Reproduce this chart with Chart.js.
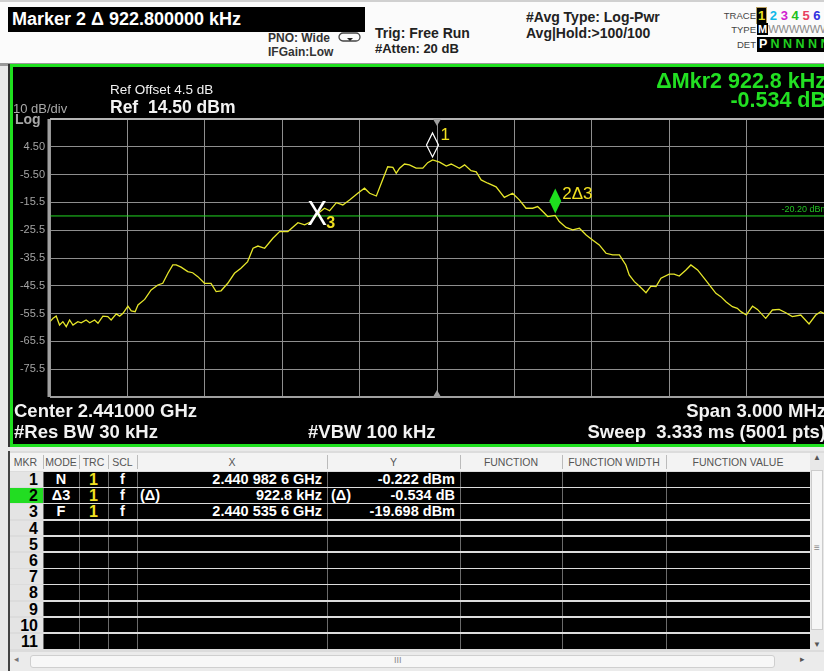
<!DOCTYPE html>
<html>
<head>
<meta charset="utf-8">
<script src="https://cdn.jsdelivr.net/npm/chart.js@4.4.1/dist/chart.umd.min.js"></script>
<style>
  body { margin: 0; width: 824px; height: 671px; overflow: hidden; position: relative;
         background: #e9e9e9; font-family: "Liberation Sans", Arial, sans-serif; }
  .abs { position: absolute; white-space: nowrap; }
  #hdr { left: 0; top: 0; width: 824px; height: 61px; background: #fbfbfb; border-bottom: 3px solid #9a9a9a;
         border-top: 2px solid #d0d0d0; box-sizing: content-box; }
  #title { left: 8px; top: 7px; width: 357px; height: 25px; background: #000; color: #fff;
           font-weight: bold; font-size: 18px; line-height: 25px; padding-left: 4px; box-sizing: border-box; }
  .hd { color: #222; font-weight: bold; }
  .hs { color: #333; font-size: 12px; font-weight: bold; }
  .tiny { color: #444; font-size: 9.5px; }
  #frame { left: 8px; top: 64px; width: 830px; height: 383px; background: #000;
           border-left: 2px solid #333; box-sizing: border-box; }
  #frame2 { left: 10px; top: 64px; width: 830px; height: 383px; border: 3px solid #1fe01f; box-sizing: border-box; }
  .w { color: #f2f2f2; font-weight: bold; }
  .g { color: #22e022; font-weight: bold; }
  #wrap { left: 0; top: 0; width: 824px; height: 671px; z-index: 2; pointer-events: none; }
  .txt { z-index: 3; }
  .th { color: #555; font-size: 10.5px; text-align: center; line-height: 18px; top: 453px; height: 18px; }
  .cell { font-weight: bold; font-size: 14.5px; line-height: 15px; color: #fff; }
</style>
</head>
<body>
<div id="hdr" class="abs"></div>
<div id="title" class="abs">Marker 2 Δ 922.800000 kHz</div>
<div class="abs hs" style="left:268px;top:31px;">PNO: Wide</div>
<div class="abs hs" style="left:268px;top:45px;">IFGain:Low</div>
<svg class="abs" style="left:338px;top:32px;" width="24" height="11" viewBox="0 0 24 11">
  <rect x="1" y="1" width="21" height="8" rx="4" fill="none" stroke="#444" stroke-width="1.3"/>
  <path d="M9 6 L15 6 L12 9 Z" fill="#222"/>
</svg>
<div class="abs hd" style="left:375px;top:25px;font-size:14px;">Trig: Free Run</div>
<div class="abs hd" style="left:375px;top:41px;font-size:13px;">#Atten: 20 dB</div>
<div class="abs hd" style="left:526px;top:9px;font-size:14px;">#Avg Type: Log-Pwr</div>
<div class="abs hd" style="left:526px;top:25px;font-size:14px;">Avg|Hold:&gt;100/100</div>
<div class="abs tiny" style="left:716px;top:10px;width:40px;text-align:right;">TRACE</div>
<div class="abs tiny" style="left:716px;top:24px;width:40px;text-align:right;">TYPE</div>
<div class="abs tiny" style="left:716px;top:39px;width:40px;text-align:right;">DET</div>
<div class="abs" style="left:757px;top:8px;width:70px;height:15px;font-weight:bold;font-size:13px;line-height:15px;">
  <span style="background:#000;color:#e8e020;outline:1px solid #b8a060;padding:0 1px;">1</span>
  <span style="color:#10b8e8;">2</span>
  <span style="color:#d020d0;">3</span>
  <span style="color:#20c020;">4</span>
  <span style="color:#e84060;">5</span>
  <span style="color:#3030e0;">6</span>
</div>
<div class="abs" style="left:757px;top:23px;width:70px;height:13px;font-size:11px;line-height:13px;">
  <span style="background:#000;color:#fff;font-weight:bold;padding:0 1px;">M</span><span style="color:#888;">WWWWWWWW</span>
</div>
<div class="abs" style="left:757px;top:37px;width:70px;height:15px;background:#000;font-size:12.5px;line-height:15px;font-weight:bold;">
  <span style="color:#fff;padding-left:2px;">P</span> <span style="color:#20d020;">N N N N N</span>
</div>

<div id="frame" class="abs"></div>
<div id="frame2" class="abs"></div>

<div class="abs w txt" style="left:110px;top:82px;font-size:13.5px;font-weight:normal;">Ref Offset 4.5 dB</div>
<div class="abs w txt" style="left:110px;top:97px;font-size:17.5px;">Ref&nbsp; 14.50 dBm</div>
<div class="abs txt" style="left:13px;top:101px;font-size:13px;color:#a8a8a8;">10 dB/div</div>
<div class="abs txt" style="left:15px;top:111px;font-size:14px;color:#a8a8a8;font-weight:bold;">Log</div>
<div class="abs g txt" style="right:-2px;top:69px;font-size:21.5px;">ΔMkr2 922.8 kHz</div>
<div class="abs g txt" style="right:-2px;top:88px;font-size:21.5px;">-0.534 dB</div>
<div class="abs w txt" style="left:14px;top:400px;font-size:18.5px;">Center 2.441000 GHz</div>
<div class="abs w txt" style="left:14px;top:421px;font-size:18.5px;">#Res BW 30 kHz</div>
<div class="abs w txt" style="left:308px;top:421px;font-size:18.5px;">#VBW 100 kHz</div>
<div class="abs w txt" style="right:-2px;top:400px;font-size:18.5px;">Span 3.000 MHz</div>
<div class="abs w txt" style="right:-2px;top:421px;font-size:18.5px;">Sweep&nbsp; 3.333 ms (5001 pts)</div>

<div id="table"></div>

<div id="wrap" class="abs"><canvas id="spec"></canvas></div>

<script>
// trace 1 (averaged, log-pwr), offset from centre 2.441 GHz
const freqOffsetKHz = [-1500, -1488, -1476, -1463, -1450, -1437, -1424, -1411, -1392, -1379,
  -1360, -1346, -1327, -1314, -1295, -1276, -1263, -1243, -1230, -1217,
  -1198, -1185, -1170, -1159, -1133, -1108, -1082, -1063, -1043, -1024,
  -1011, -992, -966, -947, -927, -901, -876, -856, -837, -811,
  -785, -760, -734, -713, -694, -668, -636, -610, -578, -539,
  -513, -487, -464, -436, -416, -390, -365, -339, -307, -281,
  -261, -235, -216, -191, -171, -158, -145, -126, -107, -81,
  -55, -36, -17, 10, 36, 55, 87, 107, 132, 152,
  171, 197, 229, 261, 293, 319, 345, 371, 390, 410,
  429, 458, 474, 500, 526, 552, 578, 603, 629, 655,
  681, 707, 732, 745, 765, 784, 810, 829, 849, 868,
  900, 919, 939, 965, 984, 1010, 1036, 1061, 1081, 1100,
  1120, 1145, 1164, 1178, 1199, 1223, 1242, 1274, 1300, 1326,
  1352, 1377, 1410, 1442, 1468, 1487, 1500];
const levelDbm = [-58.4, -57.2, -56.4, -59.6, -58.4, -60.2, -57.8, -59.6, -58.4, -58.8,
  -57.8, -58.8, -57.8, -59.0, -56.4, -56.6, -57.8, -55.6, -56.4, -55.4,
  -52.8, -54.5, -54.8, -52.4, -50.4, -47.0, -45.2, -44.6, -41.0, -38.0,
  -38.0, -38.8, -40.4, -40.8, -42.2, -44.6, -44.6, -47.6, -47.3, -44.6,
  -41.0, -39.2, -36.8, -32.0, -31.2, -32.0, -28.4, -26.0, -26.0, -22.8,
  -23.6, -22.4, -19.7, -17.6, -18.5, -15.6, -16.4, -14.6, -12.2, -10.4,
  -12.2, -13.2, -8.6, -2.7, -2.9, -5.0, -3.2, -1.7, -2.0, -3.2,
  -3.2, -1.2, -0.2, -1.0, -2.4, -1.7, -3.2, -2.0, -4.1, -4.5,
  -7.4, -8.6, -9.9, -13.7, -12.2, -14.6, -17.6, -17.6, -17.0, -18.8,
  -20.6, -20.2, -22.4, -24.5, -25.4, -24.8, -27.2, -29.0, -30.8, -33.8,
  -34.4, -34.4, -38.0, -41.6, -44.0, -45.6, -48.0, -45.6, -45.8, -42.8,
  -41.3, -41.3, -42.0, -39.8, -38.0, -39.8, -42.8, -45.8, -48.2, -49.4,
  -51.2, -53.0, -53.6, -54.8, -56.0, -52.8, -54.0, -57.2, -54.2, -54.0,
  -55.2, -56.6, -56.0, -59.2, -56.0, -54.8, -55.5];

const yTickValues = [14.5, 4.5, -5.5, -15.5, -25.5, -35.5, -45.5, -55.5, -65.5, -75.5, -85.5];
const yTickLabels = ['', '4.50', '-5.50', '-15.5', '-25.5', '-35.5', '-45.5', '-55.5', '-65.5', '-75.5', ''];
const xGridKHz = [-1500, -1200, -900, -600, -300, 0, 300, 600, 900, 1200, 1500];

const markerLabels = ['1', '2Δ3', '3'];
const markerFreqKHz = [-17.4, 458.4, -464.4];
const markerLevelDbm = [-0.222, -20.232, -19.698];
const displayLineDbm = -20.20;

// marker table
const tableCols = ['MKR', 'MODE', 'TRC', 'SCL', 'X', 'Y', 'FUNCTION', 'FUNCTION WIDTH', 'FUNCTION VALUE'];
const tableMkr = ['1', '2', '3', '4', '5', '6', '7', '8', '9', '10', '11'];
const tableMode = ['N', 'Δ3', 'F'];
const tableTrc = ['1', '1', '1'];
const tableScl = ['f', 'f', 'f'];
const tableXPrefix = ['', '(Δ)', ''];
const tableX = ['2.440 982 6 GHz', '922.8 kHz', '2.440 535 6 GHz'];
const tableYPrefix = ['', '(Δ)', ''];
const tableY = ['-0.222 dBm', '-0.534 dB', '-19.698 dBm'];

function buildTable() {
    const el = document.getElementById('table');
    const colX = [8, 43, 79, 108, 137, 327, 460, 562, 666, 810];
    let h = '';
    h += '<div class="abs" style="left:8px;top:451px;width:816px;height:220px;background:#dcdcdc;border-left:2px solid #444;box-sizing:border-box;"></div>';
    h += '<div class="abs" style="left:10px;top:453px;width:800px;height:18px;background:#f3f3f3;"></div>';
    for (let c = 0; c < tableCols.length; c++) {
        h += `<div class="abs th" style="left:${colX[c]}px;width:${colX[c + 1] - colX[c]}px;">${tableCols[c]}</div>`;
        if (c > 0) h += `<div class="abs" style="left:${colX[c]}px;top:455px;width:1px;height:14px;background:#bbb;"></div>`;
    }
    const rowH = 16.2;
    for (let r = 0; r < tableMkr.length; r++) {
        const top = 472 + r * rowH;
        h += `<div class="abs" style="left:10px;top:${top}px;width:33px;height:${rowH - 1.5}px;background:${r === 1 ? '#22dd22' : '#e4e4e4'};"></div>`;
        h += `<div class="abs" style="left:43px;top:${top}px;width:767px;height:${rowH - 1.5}px;background:#000;"></div>`;
        h += `<div class="abs cell" style="left:10px;top:${top}px;width:28px;text-align:right;color:#000;font-size:16px;">${tableMkr[r]}</div>`;
        if (r < tableMode.length) {
            h += `<div class="abs cell" style="left:43px;top:${top}px;width:36px;text-align:center;">${tableMode[r]}</div>`;
            h += `<div class="abs cell" style="left:79px;top:${top}px;width:29px;text-align:center;color:#f0e020;font-size:16px;">${tableTrc[r]}</div>`;
            h += `<div class="abs cell" style="left:108px;top:${top}px;width:29px;text-align:center;">${tableScl[r]}</div>`;
            h += `<div class="abs cell" style="left:140px;top:${top}px;">${tableXPrefix[r]}</div>`;
            h += `<div class="abs cell" style="left:137px;top:${top}px;width:185px;text-align:right;">${tableX[r]}</div>`;
            h += `<div class="abs cell" style="left:331px;top:${top}px;">${tableYPrefix[r]}</div>`;
            h += `<div class="abs cell" style="left:327px;top:${top}px;width:128px;text-align:right;">${tableY[r]}</div>`;
        }
        for (let c = 1; c < colX.length - 1; c++) {
            h += `<div class="abs" style="left:${colX[c]}px;top:${top}px;width:1px;height:${rowH - 1.5}px;background:#6a6a6a;"></div>`;
        }
    }
    // scrollbars
    h += '<div class="abs" style="left:810px;top:453px;width:14px;height:197px;background:#e8e8e8;"></div>';
    h += '<div class="abs" style="left:811px;top:470px;width:12px;height:160px;background:#f6f6f6;border:1px solid #ccc;box-sizing:border-box;"></div>';
    h += '<div class="abs" style="left:810px;top:453px;width:14px;font-size:8px;color:#555;text-align:center;">▲</div>';
    h += '<div class="abs" style="left:810px;top:640px;width:14px;font-size:8px;color:#555;text-align:center;">▼</div>';
    h += '<div class="abs" style="left:810px;top:542px;width:14px;font-size:10px;color:#888;text-align:center;">≡</div>';
    h += '<div class="abs" style="left:10px;top:652px;width:814px;height:19px;background:#ebebeb;"></div>';
    h += '<div class="abs" style="left:30px;top:655px;width:745px;height:13px;background:#f7f7f7;border:1px solid #cfcfcf;border-radius:3px;box-sizing:border-box;"></div>';
    h += '<div class="abs" style="left:14px;top:654px;font-size:9px;color:#777;">◂</div>';
    h += '<div class="abs" style="left:800px;top:654px;font-size:9px;color:#555;">▸</div>';
    h += '<div class="abs" style="left:394px;top:655px;font-size:9px;color:#888;">III</div>';
    el.innerHTML = h;
}
buildTable();

const frameAndMarkers = {
    id: 'frameAndMarkers',
    beforeDatasetsDraw(chart) {
        const { ctx, chartArea: a, scales: { y } } = chart;
        ctx.save();
        // display line
        const yl = y.getPixelForValue(displayLineDbm);
        ctx.strokeStyle = '#22d822';
        ctx.lineWidth = 1;
        ctx.beginPath();
        ctx.moveTo(a.left, yl + 0.5);
        ctx.lineTo(a.right, yl + 0.5);
        ctx.stroke();
        ctx.fillStyle = '#22c022';
        ctx.font = '9px "Liberation Sans", Arial';
        ctx.textAlign = 'right';
        ctx.textBaseline = 'bottom';
        ctx.fillText(displayLineDbm.toFixed(2) + ' dBm', a.right + 4, yl - 1);
        ctx.restore();
    },
    afterDatasetsDraw(chart) {
        const { ctx, chartArea: a, scales: { x, y } } = chart;
        ctx.save();
        // plot border
        ctx.strokeStyle = '#a0a0a0';
        ctx.lineWidth = 3;
        ctx.beginPath();
        ctx.moveTo(a.left - 1, a.bottom);
        ctx.lineTo(a.left - 1, a.top);
        ctx.stroke();
        ctx.lineWidth = 2;
        ctx.strokeStyle = '#b4b4b4';
        ctx.beginPath();
        ctx.moveTo(a.left, a.top);
        ctx.lineTo(a.right, a.top);
        ctx.stroke();
        ctx.strokeStyle = '#a0a0a0';
        ctx.beginPath();
        ctx.moveTo(a.left, a.bottom);
        ctx.lineTo(a.right, a.bottom);
        ctx.stroke();

        // centre triangles
        const xc = x.getPixelForValue(0);
        ctx.fillStyle = '#a0a0a0';
        ctx.beginPath();
        ctx.moveTo(xc - 4, a.top); ctx.lineTo(xc + 4, a.top); ctx.lineTo(xc, a.top + 7); ctx.closePath();
        ctx.fill();
        ctx.beginPath();
        ctx.moveTo(xc - 4, a.bottom); ctx.lineTo(xc + 4, a.bottom); ctx.lineTo(xc, a.bottom - 7); ctx.closePath();
        ctx.fill();

        // marker 1: open diamond
        let px = x.getPixelForValue(markerFreqKHz[0]);
        let py = y.getPixelForValue(markerLevelDbm[0]);
        ctx.strokeStyle = '#ffffff';
        ctx.lineWidth = 1.2;
        ctx.beginPath();
        ctx.moveTo(px, py - 3); ctx.lineTo(px + 6, py - 15); ctx.lineTo(px, py - 27); ctx.lineTo(px - 6, py - 15); ctx.closePath();
        ctx.stroke();
        ctx.fillStyle = '#f0e020';
        ctx.font = '17px "Liberation Sans", Arial';
        ctx.textAlign = 'left';
        ctx.textBaseline = 'alphabetic';
        ctx.fillText(markerLabels[0], px + 8, py - 20);

        // marker 2: filled green diamond
        px = x.getPixelForValue(markerFreqKHz[1]);
        py = y.getPixelForValue(markerLevelDbm[1]);
        ctx.fillStyle = '#1ee01e';
        ctx.beginPath();
        ctx.moveTo(px, py - 2); ctx.lineTo(px + 6, py - 14.5); ctx.lineTo(px, py - 27); ctx.lineTo(px - 6, py - 14.5); ctx.closePath();
        ctx.fill();
        ctx.fillStyle = '#f0e020';
        ctx.font = '17px "Liberation Sans", Arial';
        ctx.fillText(markerLabels[1], px + 7, py - 17);

        // marker 3: X
        px = x.getPixelForValue(markerFreqKHz[2]);
        py = y.getPixelForValue(markerLevelDbm[2]);
        ctx.save();
        ctx.translate(px, py);
        ctx.scale(0.85, 1);
        ctx.fillStyle = '#ffffff';
        ctx.font = '35px "Liberation Sans", Arial';
        ctx.textAlign = 'center';
        ctx.textBaseline = 'middle';
        ctx.fillText('X', 0, 1);
        ctx.restore();
        ctx.fillStyle = '#f0e020';
        ctx.font = 'bold 16px "Liberation Sans", Arial';
        ctx.textAlign = 'left';
        ctx.fillText(markerLabels[2], px + 9, py + 14);
        ctx.restore();
    }
};

const ctx = document.getElementById('spec').getContext('2d');
new Chart(ctx, {
    type: 'line',
    data: {
        datasets: [{
            label: 'Trace 1',
            data: freqOffsetKHz.map((f, i) => ({ x: f, y: levelDbm[i] })),
            borderColor: '#e6e62a',
            borderWidth: 1.3,
            pointRadius: 0,
            tension: 0,
            fill: false
        }]
    },
    options: {
        responsive: true,
        maintainAspectRatio: false,
        animation: false,
        events: [],
        layout: { padding: { left: 0, right: 0, top: 119, bottom: 274 } },
        plugins: { legend: { display: false }, tooltip: { enabled: false } },
        scales: {
            x: {
                type: 'linear',
                min: -1500,
                max: 1500,
                afterBuildTicks: (axis) => { axis.ticks = xGridKHz.map(v => ({ value: v })); },
                afterFit: (axis) => { axis.height = 0; },
                ticks: { display: false },
                grid: { color: '#8e8e8e', lineWidth: 1, drawTicks: false },
                border: { display: false }
            },
            y: {
                min: -85.5,
                max: 14.5,
                afterBuildTicks: (axis) => { axis.ticks = yTickValues.map(v => ({ value: v })); },
                afterFit: (axis) => { axis.width = 50; },
                ticks: {
                    color: '#a4a4a4',
                    padding: 5,
                    autoSkip: false,
                    font: { family: '"Liberation Sans", Arial', size: 11 },
                    callback: (v, i) => yTickLabels[i]
                },
                grid: { color: '#8e8e8e', lineWidth: 1, drawTicks: false },
                border: { display: false }
            }
        }
    },
    plugins: [frameAndMarkers]
});
</script>
</body>
</html>
